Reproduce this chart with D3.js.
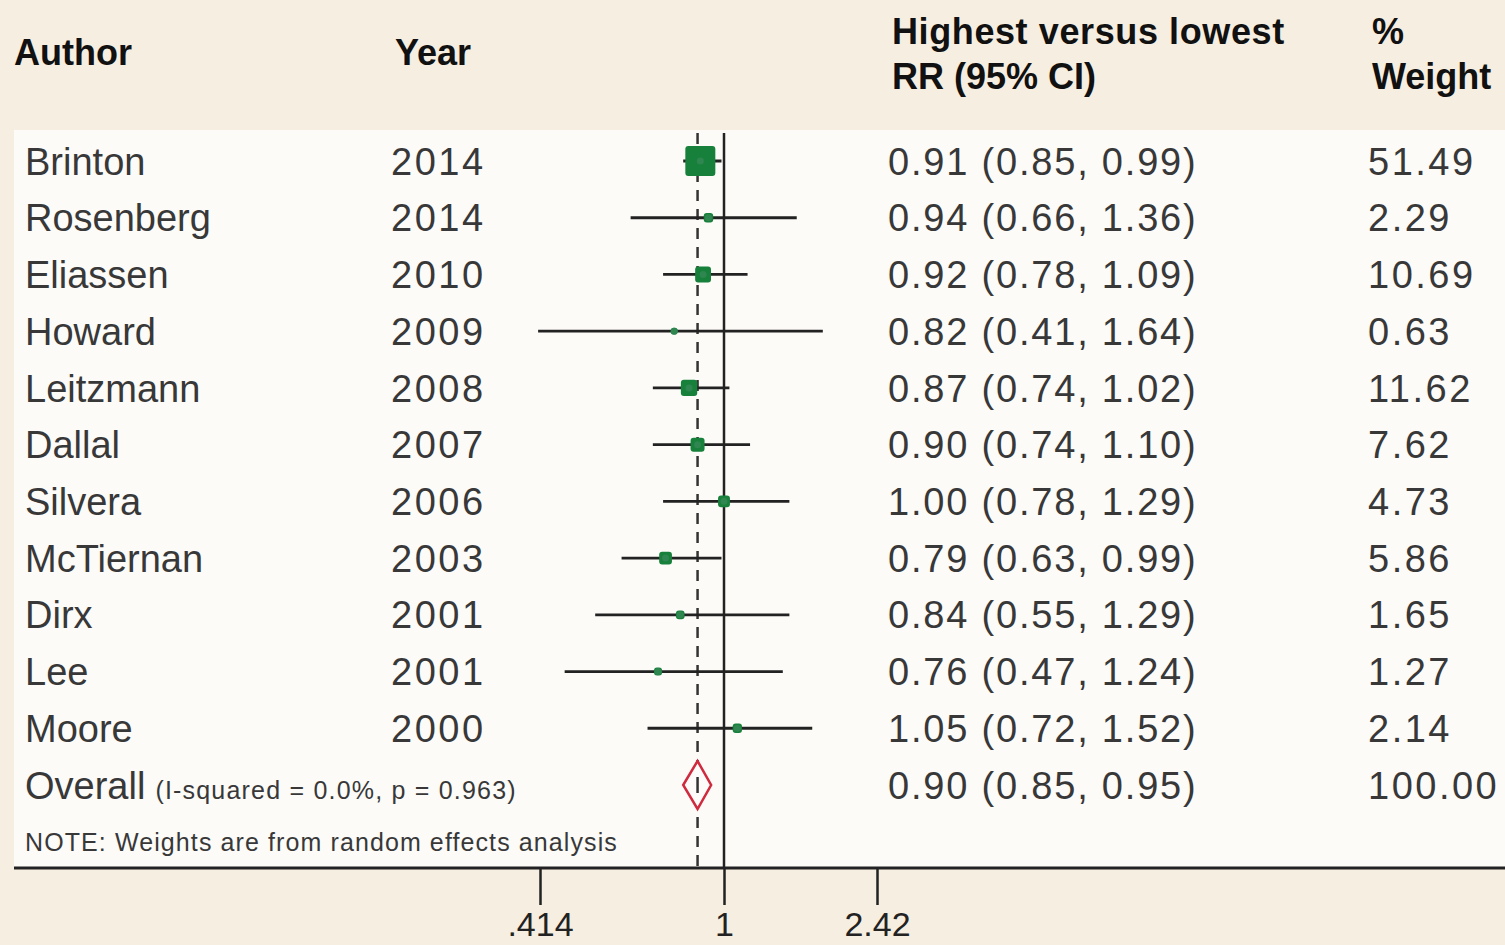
<!DOCTYPE html>
<html>
<head>
<meta charset="utf-8">
<script src="https://cdn.jsdelivr.net/npm/d3@7"></script>
<style>
  html, body { margin: 0; padding: 0; background: #f6eee0; }
  svg { display: block; }
  text { font-family: "Liberation Sans", Arial, sans-serif; }
</style>
</head>
<body>
<svg id="chart"></svg>
<script>
// --- forest plot data ---
const authors = ['Brinton', 'Rosenberg', 'Eliassen', 'Howard', 'Leitzmann', 'Dallal', 'Silvera', 'McTiernan', 'Dirx', 'Lee', 'Moore'];
const years = [2014, 2014, 2010, 2009, 2008, 2007, 2006, 2003, 2001, 2001, 2000];
const rr = [0.91, 0.94, 0.92, 0.82, 0.87, 0.90, 1.00, 0.79, 0.84, 0.76, 1.05];
const lower = [0.85, 0.66, 0.78, 0.41, 0.74, 0.74, 0.78, 0.63, 0.55, 0.47, 0.72];
const upper = [0.99, 1.36, 1.09, 1.64, 1.02, 1.10, 1.29, 0.99, 1.29, 1.24, 1.52];
const weights = [51.49, 2.29, 10.69, 0.63, 11.62, 7.62, 4.73, 5.86, 1.65, 1.27, 2.14];

const overallRR = 0.90, overallLo = 0.85, overallHi = 0.95, overallWeight = 100.00;
const overallNote = '(I-squared = 0.0%, p = 0.963)';

const xTicks = [0.414, 1, 2.42];
const xTickLabels = ['.414', '1', '2.42'];

const W = 1505, H = 945;
const svg = d3.select('#chart').attr('width', W).attr('height', H);

// background + white panel
svg.append('rect').attr('width', W).attr('height', H).attr('fill', '#f6eee0');
svg.append('rect')
    .attr('x', 14).attr('y', 130)
    .attr('width', W - 14).attr('height', 738)
    .attr('fill', '#fcfbf8');

// scales (log scale, piecewise to follow the printed figure)
const x = d3.scaleLog()
    .domain([0.414, 0.8, 1, 1.25, 2.42])
    .range([540, 668, 724, 785, 877]);
const y = d3.scalePoint()
    .domain([...authors, 'Overall'])
    .range([161, 785]);
const boxSide = d3.scaleSqrt().domain([0, 51.49]).range([4, 30]);

const rows = authors.map((a, i) => ({
    author: a, year: years[i], rr: rr[i], lo: lower[i], hi: upper[i], w: weights[i]
}));

// header
const header = svg.append('g')
    .attr('font-weight', 'bold')
    .attr('font-size', 36)
    .attr('fill', '#111');
header.append('text').attr('x', 14).attr('y', 65).text('Author');
header.append('text').attr('x', 395).attr('y', 65).text('Year');
header.append('text').attr('x', 892).attr('y', 44).attr('letter-spacing', 0.6).text('Highest versus lowest');
header.append('text').attr('x', 892).attr('y', 89).text('RR (95% CI)');
header.append('text').attr('x', 1372).attr('y', 44).text('%');
header.append('text').attr('x', 1372).attr('y', 89).text('Weight');

// reference lines
const plotTop = 133, axisY = 868;
svg.append('line')
    .attr('x1', x(overallRR)).attr('x2', x(overallRR))
    .attr('y1', plotTop).attr('y2', axisY)
    .attr('stroke', '#333').attr('stroke-width', 2.5)
    .attr('stroke-dasharray', '11,8');
svg.append('line')
    .attr('x1', x(1)).attr('x2', x(1))
    .attr('y1', plotTop).attr('y2', axisY)
    .attr('stroke', '#222').attr('stroke-width', 2.5);

// confidence intervals
svg.append('g').selectAll('line')
    .data(rows)
    .join('line')
    .attr('x1', d => x(d.lo)).attr('x2', d => x(d.hi))
    .attr('y1', d => y(d.author)).attr('y2', d => y(d.author))
    .attr('stroke', '#222').attr('stroke-width', 2.8);

// weight boxes + point marker
svg.append('g').selectAll('rect')
    .data(rows)
    .join('rect')
    .attr('x', d => x(d.rr) - boxSide(d.w) / 2)
    .attr('y', d => y(d.author) - boxSide(d.w) / 2)
    .attr('width', d => boxSide(d.w))
    .attr('height', d => boxSide(d.w))
    .attr('rx', 3)
    .attr('fill', '#17803a');
svg.append('g').selectAll('circle')
    .data(rows)
    .join('circle')
    .attr('cx', d => x(d.rr))
    .attr('cy', d => y(d.author))
    .attr('r', 3.5)
    .attr('fill', '#2f8650');

// overall diamond
const oy = y('Overall');
const diamond = [
    [x(overallLo), oy], [x(overallRR), oy - 24],
    [x(overallHi), oy], [x(overallRR), oy + 24]
];
svg.append('path')
    .attr('d', d3.line()(diamond) + 'Z')
    .attr('fill', '#fdfcfa')
    .attr('stroke', '#d02a3e').attr('stroke-width', 2.5);
svg.append('line')
    .attr('x1', x(overallRR)).attr('x2', x(overallRR))
    .attr('y1', oy - 8).attr('y2', oy + 8)
    .attr('stroke', '#333').attr('stroke-width', 2.5);

// table text
const fmt = d3.format('.2f');
const tbl = svg.append('g').attr('font-size', 38).attr('fill', '#383838');
tbl.selectAll('text.author')
    .data(rows)
    .join('text')
    .attr('class', 'author')
    .attr('x', 25).attr('y', d => y(d.author))
    .attr('dy', '0.36em')
    .text(d => d.author);
tbl.selectAll('text.year')
    .data(rows)
    .join('text')
    .attr('class', 'year')
    .attr('x', 391).attr('y', d => y(d.author))
    .attr('dy', '0.36em')
    .attr('letter-spacing', 2.5)
    .text(d => d.year);
tbl.selectAll('text.ci')
    .data(rows)
    .join('text')
    .attr('class', 'ci')
    .attr('x', 888).attr('y', d => y(d.author))
    .attr('dy', '0.36em')
    .attr('letter-spacing', 1.8)
    .text(d => `${fmt(d.rr)} (${fmt(d.lo)}, ${fmt(d.hi)})`);
tbl.selectAll('text.wt')
    .data(rows)
    .join('text')
    .attr('class', 'wt')
    .attr('x', 1368).attr('y', d => y(d.author))
    .attr('dy', '0.36em')
    .attr('letter-spacing', 2.5)
    .text(d => fmt(d.w));

// overall row
const ov = tbl.append('text').attr('x', 25).attr('y', oy).attr('dy', '0.36em');
ov.append('tspan').text('Overall');
ov.append('tspan').attr('font-size', 25).attr('dx', 10).attr('letter-spacing', 1.2).text(overallNote);
tbl.append('text')
    .attr('x', 888).attr('y', oy).attr('dy', '0.36em')
    .attr('letter-spacing', 1.8)
    .text(`${fmt(overallRR)} (${fmt(overallLo)}, ${fmt(overallHi)})`);
tbl.append('text')
    .attr('x', 1368).attr('y', oy).attr('dy', '0.36em')
    .attr('letter-spacing', 2.5)
    .text(fmt(overallWeight));

tbl.append('text')
    .attr('x', 25).attr('y', 842).attr('dy', '0.36em')
    .attr('font-size', 25)
    .attr('letter-spacing', 1.1)
    .text('NOTE: Weights are from random effects analysis');

// axis
svg.append('line')
    .attr('x1', 14).attr('x2', W)
    .attr('y1', axisY).attr('y2', axisY)
    .attr('stroke', '#222').attr('stroke-width', 3);
const axis = svg.append('g')
    .attr('transform', `translate(0,${axisY})`)
    .call(d3.axisBottom(x)
        .tickValues(xTicks)
        .tickFormat((d, i) => xTickLabels[i])
        .tickSize(37)
        .tickPadding(7));
axis.select('.domain').remove();
axis.selectAll('.tick line').attr('stroke', '#222').attr('stroke-width', 2.5);
axis.selectAll('.tick text')
    .attr('font-size', 34)
    .attr('font-family', '"Liberation Sans", Arial, sans-serif')
    .attr('fill', '#222');
</script>
</body>
</html>
